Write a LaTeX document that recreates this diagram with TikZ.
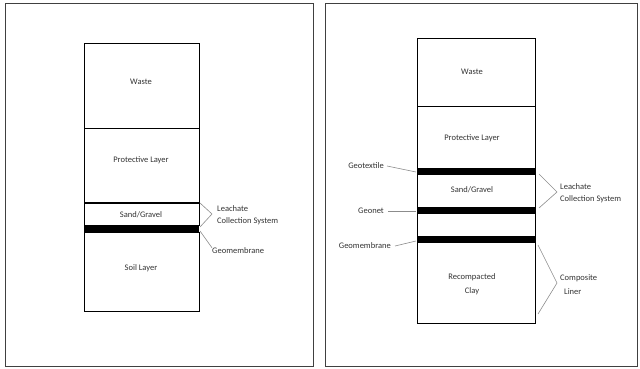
\documentclass[tikz,border=0pt]{standalone}
\usepackage{fontspec}
\setmainfont{Carlito}
\usepackage{tikz}
\usetikzlibrary{calc}
\newcommand{\layerw}[4]{\draw[line width=0.9pt] ( #1 , #2 ) rectangle ( #3 , #4 );}
\newcommand{\layerb}[4]{\fill[black] ( #1 , #2 ) rectangle ( #3 , #4 );}
\tikzset{
  lbl/.style={font=\fontsize{8.5}{10}\selectfont, inner sep=0pt, text=black!80, align=center},
  lead/.style={draw=black!45, line width=0.6pt},
  frame/.style={draw=black!75, line width=1pt}
}

\begin{document}
\begin{tikzpicture}[x=1pt, y=-1pt]
            \useasboundingbox (0,0) rectangle (640,369);
            % frames
            \draw[frame] (5,4) rectangle (313,366);
            \draw[frame] (325,4) rectangle (637,366);
            % left column
            \layerw{84}{43}{199}{128}
            \layerw{84}{128}{199}{202}
            \layerw{84}{203}{199}{225}
            \layerb{84}{225}{199}{232}
            \layerw{84}{232}{199}{311}
            \node[lbl] (wasteL) at (141,82) {Waste};
            \node[lbl] (protL) at (141,160) {Protective Layer};
            \node[lbl] (sandL) at (141,215) {Sand/Gravel};
            \node[lbl] (soilL) at (141,268) {Soil Layer};
            % left labels
            \node[lbl, anchor=west, align=left] (lcsL) at (217,215) {Leachate\\[2pt]Collection System};
            \node[lbl, anchor=west] (gmL) at (212,251) {Geomembrane};
            \coordinate (braceLa) at (200,203);
            \coordinate (braceLb) at (212,214);
            \coordinate (braceLc) at (200,227);
            \coordinate (gmLa) at (200,231);
            \draw[lead] (braceLa) -- (braceLb) -- (braceLc);
            \draw[lead] (gmLa) -- (gmL.north west);
            % right column
            \layerw{417}{38}{535}{106}
            \layerw{417}{106}{535}{323}
            \layerb{417}{168}{535}{175}
            \layerb{417}{207}{535}{214}
            \layerb{417}{236}{535}{243}
            \node[lbl] (wasteR) at (472,72) {Waste};
            \node[lbl] (protR) at (472,138) {Protective Layer};
            \node[lbl] (sandR) at (472,190) {Sand/Gravel};
            \node[lbl] (clayR) at (472,284) {Recompacted\\[4pt]Clay};
            % right labels
            \node[lbl, anchor=east] (gtR) at (384,166) {Geotextile};
            \node[lbl, anchor=east] (gnR) at (384,211) {Geonet};
            \node[lbl, anchor=east] (gmR) at (391,246) {Geomembrane};
            \draw[lead] (gtR.east) ++(3,0) -- (416,172);
            \draw[lead] (gnR.east) ++(4,0) -- (416,211);
            \draw[lead] (gmR.east) ++(4,0) -- (416,241);
            \node[lbl, anchor=west, align=left] (lcsR) at (560,193) {Leachate\\[2pt]Collection System};
            \node[lbl, anchor=west, align=left] (clR) at (560,285) {Composite\\[4pt]\hspace{4pt}Liner};
            \coordinate (braceRa) at (539,174);
            \coordinate (braceRb) at (557,192);
            \coordinate (braceRc) at (539,208);
            \coordinate (braceRd) at (538,245);
            \coordinate (braceRe) at (557,283);
            \coordinate (braceRf) at (538,314);
            \draw[lead] (braceRa) -- (braceRb) -- (braceRc);
            \draw[lead] (braceRd) -- (braceRe) -- (braceRf);
        \end{tikzpicture}
\end{document}
